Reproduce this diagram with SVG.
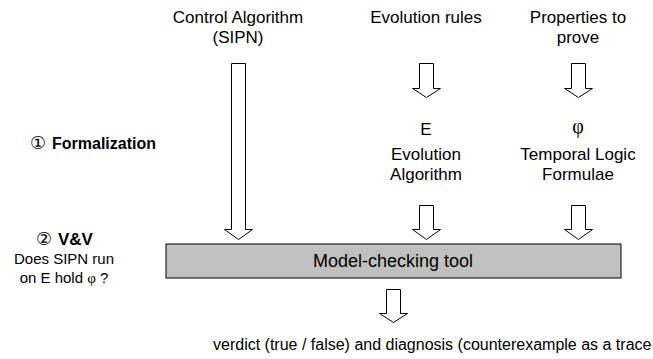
<svg xmlns="http://www.w3.org/2000/svg" width="653" height="359" viewBox="0 0 653 359">
<style>
text{font-family:"Liberation Sans",Arial,"DejaVu Sans",sans-serif;font-size:17px;fill:#000}
.c{text-anchor:middle}
.b{font-weight:bold}
.f{font-size:16px}
.s{font-size:15px}
.m{font-size:18px}
.v{font-size:16px}
.circ{font-family:"DejaVu Sans",sans-serif;font-size:18px;font-weight:normal}
.arr{fill:#fff;stroke:#000;stroke-width:1}
.sym{font-family:"Liberation Serif","DejaVu Serif",serif}
.phi{font-size:20px}
</style>
<rect width="653" height="359" fill="#fff"/>
<g id="labels">
<text class="c" x="238" y="23">Control Algorithm</text>
<text class="c" x="238" y="43">(SIPN)</text>
<text class="c" x="426" y="23">Evolution rules</text>
<text class="c" x="578" y="23">Properties to</text>
<text class="c" x="578" y="43">prove</text>
</g>
<g id="formalization">
<text x="30" y="149"><tspan class="circ">①</tspan><tspan class="b f" x="52">Formalization</tspan></text>
</g>
<g id="evolution-algorithm">
<text class="c" x="426" y="135">E</text>
<text class="c" x="426" y="160">Evolution</text>
<text class="c" x="426" y="180">Algorithm</text>
</g>
<g id="temporal-logic">
<text class="c sym phi" x="578" y="133">φ</text>
<text class="c" x="578" y="160">Temporal Logic</text>
<text class="c" x="578" y="180">Formulae</text>
</g>
<g id="vv">
<text x="36" y="245"><tspan class="circ">②</tspan><tspan class="b" x="58">V&amp;V</tspan></text>
<text class="c s" x="64" y="264">Does SIPN run</text>
<text class="c s" x="64" y="283">on E hold <tspan class="sym">φ</tspan> ?</text>
</g>
<g id="model-checking-tool">
<rect x="166" y="244" width="455" height="34" fill="#c0c0c0" stroke="#000" stroke-width="1"/>
<text class="c m" x="393" y="267">Model-checking tool</text>
</g>
<g id="verdict">
<text class="v" x="213" y="350">verdict (true / false) and diagnosis (counterexample as a trace</text>
</g>
<g id="connectors">
<path class="arr" d="M231.5,63.5 H245.5 V229.5 H252.5 L238.5,239.5 L224.5,229.5 H231.5 Z"/>
<path class="arr" d="M419.5,63.5 H433.5 V88.5 H440.5 L426.5,97.5 L412.5,88.5 H419.5 Z"/>
<path class="arr" d="M571.5,63.5 H585.5 V88.5 H592.5 L578.5,97.5 L564.5,88.5 H571.5 Z"/>
<path class="arr" d="M419.5,205.5 H433.5 V229.5 H440.5 L426.5,239.5 L412.5,229.5 H419.5 Z"/>
<path class="arr" d="M571.5,205.5 H585.5 V229.5 H592.5 L578.5,239.5 L564.5,229.5 H571.5 Z"/>
<path class="arr" d="M386.5,289.5 H400.5 V313.5 H407.5 L393.5,322.5 L379.5,313.5 H386.5 Z"/>
</g>
</svg>
